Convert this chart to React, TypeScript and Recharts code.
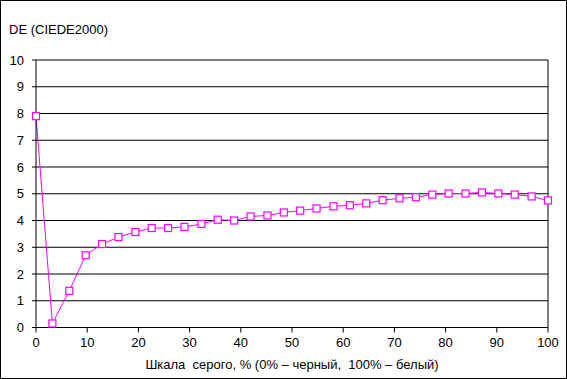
import React from 'react';
import { LineChart, Line, XAxis, YAxis, CartesianGrid, ReferenceLine } from 'recharts';

const grayLevels = [
  0, 3.2, 6.5, 9.7, 12.9, 16.1, 19.4, 22.6, 25.8, 29.0, 32.3, 35.5, 38.7, 41.9, 45.2, 48.4,
  51.6, 54.8, 58.1, 61.3, 64.5, 67.7, 71.0, 74.2, 77.4, 80.6, 83.9, 87.1, 90.3, 93.5, 96.8, 100,
];

const deltaE = [
  7.9, 0.15, 1.37, 2.7, 3.12, 3.38, 3.57, 3.72, 3.72, 3.76, 3.87, 4.03, 4.0, 4.15, 4.19, 4.3,
  4.37, 4.45, 4.53, 4.57, 4.64, 4.76, 4.83, 4.87, 4.97, 5.01, 5.01, 5.05, 5.01, 4.97, 4.9, 4.75,
];

const xTicks = [0, 10, 20, 30, 40, 50, 60, 70, 80, 90, 100];
const yTicks = [0, 1, 2, 3, 4, 5, 6, 7, 8, 9, 10];

const data = grayLevels.map((g, i) => ({ gray: g, de: deltaE[i] }));

const FONT = 'Arial, "Liberation Sans", sans-serif';

// nbsp keeps the wide gaps of the original caption (Recharts collapses plain spaces)
const xTitle = 'Шкала\u00A0 серого, % (0% – черный,\u00A0 100% – белый)';

const SquareDot = (props: any) => {
  const { cx, cy, index } = props;
  if (cx == null || cy == null) return null;
  return (
    <rect
      key={`dot-${index}`}
      x={cx - 3.5}
      y={cy - 3.5}
      width={7}
      height={7}
      fill="#ffffff"
      stroke="#ff00ff"
      strokeWidth={1.2}
    />
  );
};

const App: React.FC = () => {
  return (
    <div style={{ position: 'absolute', left: 0, top: 0, width: 567, height: 379, background: '#fff' }}>
      <LineChart
        width={567}
        height={379}
        data={data}
        margin={{ top: 60, right: 19, left: 0, bottom: 0 }}
      >
        <CartesianGrid vertical={false} stroke="#000" strokeWidth={1} />
        <XAxis
          dataKey="gray"
          type="number"
          domain={[0, 100]}
          ticks={xTicks}
          height={51.5}
          stroke="#000"
          tickSize={5}
          tickMargin={5}
          tick={{ fontSize: 13, fill: '#000', fontFamily: FONT }}
          label={{
            value: xTitle,
            position: 'insideBottom',
            offset: 10,
            style: { fontSize: 13, fill: '#000', fontFamily: FONT },
          }}
        />
        <YAxis
          domain={[0, 10]}
          ticks={yTicks}
          width={36}
          stroke="#000"
          tickSize={4}
          tickMargin={8}
          tick={{ fontSize: 13, fill: '#000', fontFamily: FONT }}
          interval={0}
        />
        <ReferenceLine x={100} stroke="#000" strokeWidth={1} />
        <Line
          type="linear"
          dataKey="de"
          stroke="#ff00ff"
          strokeWidth={1}
          dot={<SquareDot />}
          activeDot={false}
          isAnimationActive={false}
        />
      </LineChart>
      <div
        style={{
          position: 'absolute',
          left: 9,
          top: 23,
          fontFamily: FONT,
          fontSize: 13,
          lineHeight: '13px',
          color: '#000',
          whiteSpace: 'nowrap',
        }}
      >
        DE (CIEDE2000)
      </div>
      <div
        style={{
          position: 'absolute',
          left: 0,
          top: 0,
          width: 567,
          height: 379,
          boxSizing: 'border-box',
          border: '1px solid #000',
          pointerEvents: 'none',
        }}
      />
    </div>
  );
};

export default App;
